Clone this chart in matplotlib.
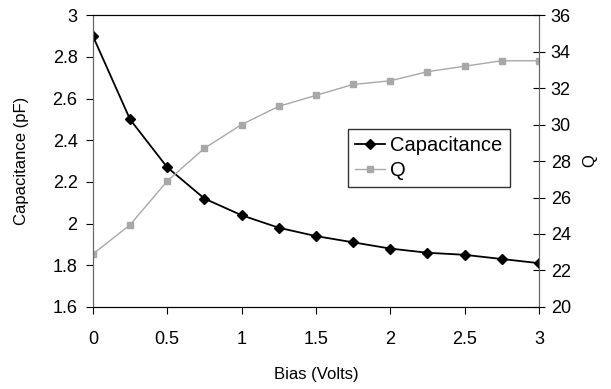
import numpy as np
import matplotlib.pyplot as plt

plt.rcParams['font.family'] = ['Liberation Sans', 'DejaVu Sans']

# Bias sweep (Volts)
bias = [0, 0.25, 0.5, 0.75, 1.0, 1.25, 1.5, 1.75, 2.0, 2.25, 2.5, 2.75, 3.0]
# Capacitance (pF)
cap = [2.90, 2.50, 2.27, 2.12, 2.04, 1.98, 1.94, 1.91, 1.88, 1.86, 1.85, 1.83, 1.81]
# Quality factor
q = [22.9, 24.5, 26.9, 28.7, 30.0, 31.0, 31.6, 32.2, 32.4, 32.9, 33.2, 33.5, 33.5]

cap_ticks = [1.6, 1.8, 2, 2.2, 2.4, 2.6, 2.8, 3]
q_ticks = [20, 22, 24, 26, 28, 30, 32, 34, 36]
x_ticks = [0, 0.5, 1, 1.5, 2, 2.5, 3]

fig = plt.figure(figsize=(6.11, 3.89), dpi=100)
ax = fig.add_axes([0.152, 0.211, 0.730, 0.750])
ax2 = ax.twinx()

l1, = ax.plot(bias, cap, '-', color='black', lw=1.3, marker='D',
              markersize=5, label='Capacitance')
l2, = ax2.plot(bias, q, '-', color='#a8a8a8', lw=1.0, marker='s',
               markersize=5, label='Q')

ax.set_xlim(0, 3)
ax.set_ylim(1.6, 3)
ax2.set_ylim(20, 36)
ax.set_xticks(x_ticks)
ax.set_xticklabels(['0', '0.5', '1', '1.5', '2', '2.5', '3'])
ax.set_yticks(cap_ticks)
ax.set_yticklabels(['1.6', '1.8', '2', '2.2', '2.4', '2.6', '2.8', '3'])
ax2.set_yticks(q_ticks)

ax.tick_params(axis='both', direction='out', length=5, labelsize=13, pad=6)
ax.tick_params(axis='x', pad=12)
ax2.tick_params(axis='y', direction='inout', length=9, labelsize=13, pad=4)

ax.set_xlabel('Bias (Volts)', fontsize=12, labelpad=14)
ax.set_ylabel('Capacitance (pF)', fontsize=12, labelpad=17)
ax2.set_ylabel('Q', fontsize=12, rotation=90, labelpad=8)

for a in (ax, ax2):
    a.spines['left'].set_color('#666666')
    a.spines['right'].set_color('#666666')
    a.spines['top'].set_color('black')
    a.spines['bottom'].set_color('black')

leg = ax2.legend(handles=[l1, l2], loc='lower left',
                 bbox_to_anchor=(0.572, 0.411), fontsize=14.5,
                 frameon=True, fancybox=False, handlelength=1.5,
                 handletextpad=0.25, borderpad=0.35, labelspacing=0.3,
                 borderaxespad=0)
leg.get_frame().set_edgecolor('black')
leg.get_frame().set_linewidth(1.0)

fig.savefig('out.png', dpi=100)
